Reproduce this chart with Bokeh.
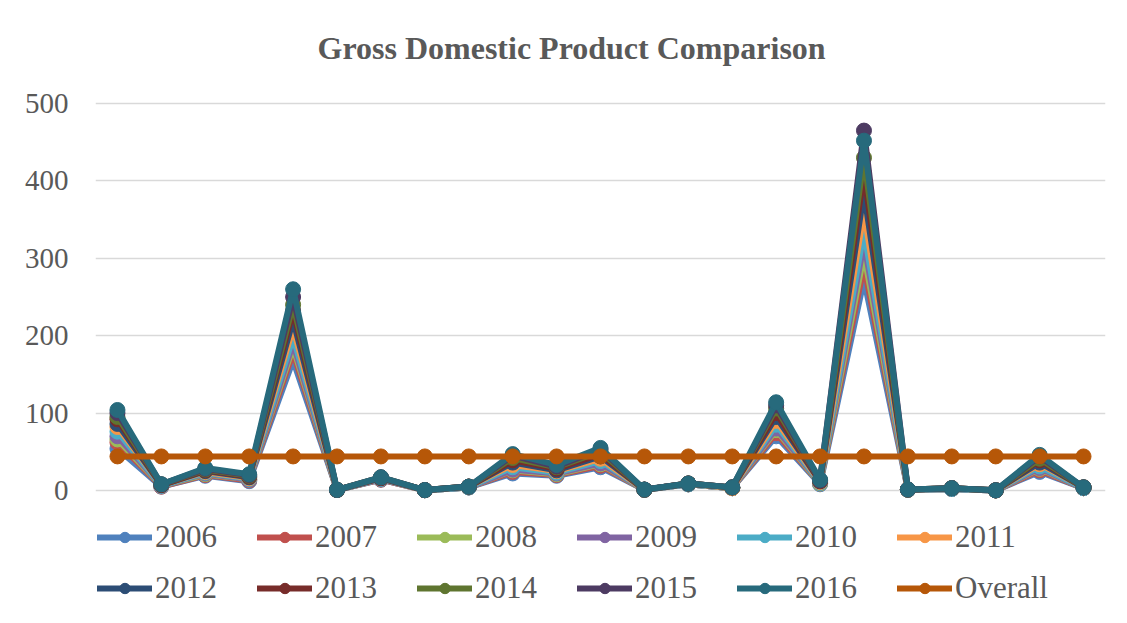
from bokeh.plotting import figure
from bokeh.models import Legend, LegendItem, Range1d, FixedTicker, Label
from bokeh.embed import file_html
from bokeh.resources import INLINE

points = list(range(1, 24))
years = ["2006", "2007", "2008", "2009", "2010", "2011",
         "2012", "2013", "2014", "2015", "2016", "Overall"]

s2006 = [54, 5, 19, 12, 168, 0.5, 14, 0.3, 4, 22, 19, 30, 0.8, 8, 3, 70, 8, 272, 0.8, 2, 0.1, 24, 3]
s2007 = [62, 5, 20, 13, 178, 0.5, 14, 0.3, 4, 24, 20, 32, 0.8, 8, 3, 74, 9, 290, 0.9, 2, 0.1, 26, 3]
s2008 = [66, 6, 21, 14, 185, 0.6, 15, 0.3, 4, 26, 21, 34, 0.9, 8, 3, 78, 9, 305, 0.9, 2, 0.1, 28, 3]
s2009 = [70, 6, 22, 14, 190, 0.6, 15, 0.4, 4, 27, 22, 35, 0.9, 8, 3, 80, 10, 320, 1.0, 2, 0.1, 29, 3]
s2010 = [76, 6, 23, 15, 198, 0.6, 15, 0.4, 4, 30, 23, 38, 1.0, 8, 3, 85, 10, 335, 1.0, 2, 0.1, 31, 3]
s2011 = [82, 7, 24, 16, 210, 0.7, 16, 0.4, 5, 33, 25, 41, 1.0, 9, 3, 90, 11, 360, 1.1, 3, 0.1, 34, 4]
s2012 = [86, 7, 25, 17, 220, 0.7, 16, 0.4, 5, 36, 26, 44, 1.0, 9, 4, 95, 12, 385, 1.1, 3, 0.2, 36, 4]
s2013 = [92, 7, 26, 18, 232, 0.7, 16, 0.5, 5, 39, 28, 47, 1.1, 9, 4, 100, 12, 410, 1.2, 3, 0.2, 39, 4]
s2014 = [95, 8, 27, 19, 240, 0.8, 17, 0.5, 5, 42, 30, 50, 1.1, 9, 4, 106, 13, 430, 1.2, 3, 0.2, 41, 4]
s2015 = [100, 8, 28, 20, 250, 0.8, 17, 0.5, 5, 45, 31, 53, 1.2, 9, 4, 110, 13, 465, 1.3, 3, 0.2, 44, 4]
s2016 = [104, 8, 29, 21, 260, 0.8, 17, 0.5, 5, 47, 33, 55, 1.2, 9, 4, 114, 14, 452, 1.3, 3, 0.2, 46, 4]
overall = [44] * 23

y_ticks = [0, 100, 200, 300, 400, 500]

series = [s2006, s2007, s2008, s2009, s2010, s2011,
          s2012, s2013, s2014, s2015, s2016, overall]
colors = ["#4F81BD", "#C0504D", "#9BBB59", "#8064A2", "#4BACC6", "#F79646",
          "#2C4D75", "#772C2A", "#5F7530", "#4D3B62", "#276A7C", "#B65708"]

FONT = "Liberation Serif"
GREY = "#595959"

p = figure(width=1111, height=607, output_backend="svg", toolbar_location=None,
           x_axis_location=None,
           x_range=Range1d(0.5, 23.5), y_range=Range1d(-151.2, 633.1),
           min_border_left=95, min_border_right=6,
           min_border_top=0, min_border_bottom=0)
p.outline_line_color = None
p.background_fill_color = "white"
p.border_fill_color = "white"

title = Label(x=222, y=560, x_units="screen", y_units="screen",
              text="Gross Domestic Product Comparison",
              text_align="left", text_baseline="middle",
              text_font=FONT, text_font_size="32px", text_font_style="bold",
              text_color=GREY)
p.add_layout(title, "center")

p.xgrid.visible = False
p.ygrid.grid_line_color = "#D9D9D9"
p.ygrid.grid_line_width = 1.5
p.yaxis.ticker = FixedTicker(ticks=y_ticks)
p.yaxis.axis_line_color = None
p.yaxis.major_tick_line_color = None
p.yaxis.minor_tick_line_color = None
p.yaxis.major_label_text_font = FONT
p.yaxis.major_label_text_font_size = "29px"
p.yaxis.major_label_text_color = GREY
p.yaxis.major_label_standoff = 21

items = []
for name, vals, c in zip(years, series, colors):
    lr = p.line(points, vals, line_color=c, line_width=6, line_join="round", line_cap="round")
    sr = p.scatter(points, vals, size=15, fill_color=c, line_color=c)
    items.append(LegendItem(label=name, renderers=[lr, sr]))

def make_legend(its, vy):
    leg = Legend(items=its, orientation="horizontal", location=(2, vy))
    leg.label_text_font = FONT
    leg.label_text_font_size = "31px"
    leg.label_text_color = GREY
    leg.glyph_width = 55
    leg.glyph_height = 26
    leg.label_standoff = 3
    leg.spacing = 40
    leg.padding = 0
    leg.margin = 0
    leg.border_line_color = None
    leg.background_fill_alpha = 0
    return leg

p.add_layout(make_legend(items[:6], 52), "center")
p.add_layout(make_legend(items[6:], 1), "center")

open("out.html", "w").write(file_html(p, INLINE))
